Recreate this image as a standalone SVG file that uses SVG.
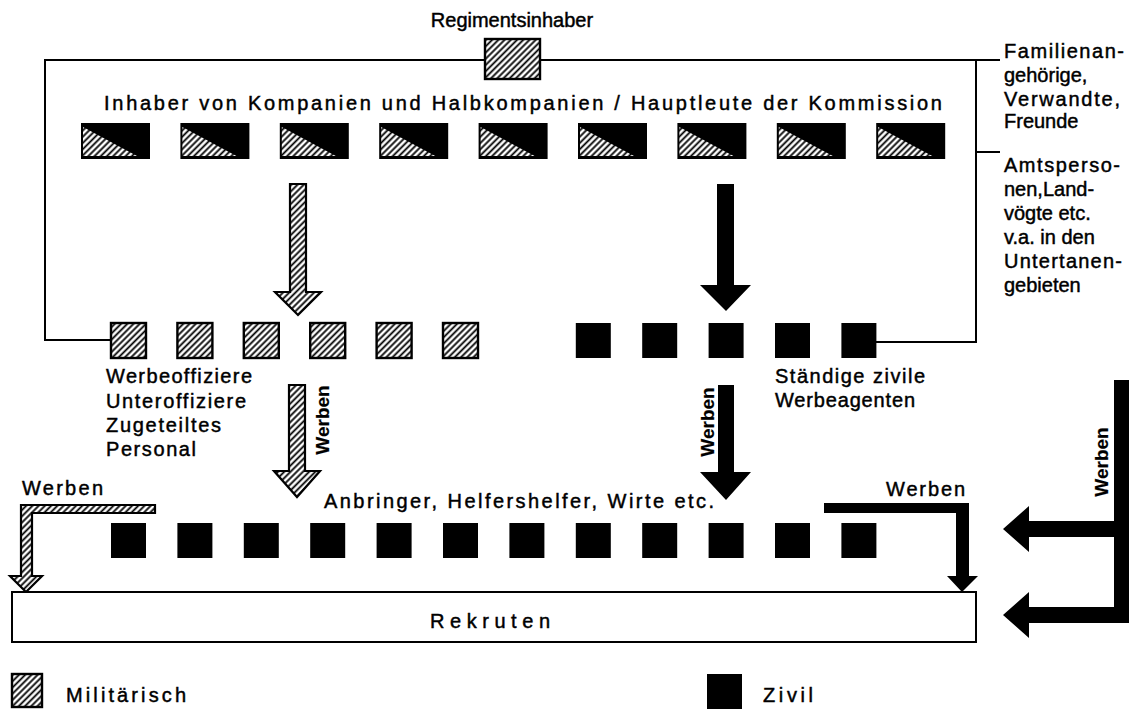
<svg xmlns="http://www.w3.org/2000/svg" width="1135" height="713" viewBox="0 0 1135 713">
<defs>
<pattern id="hatch" width="4.4" height="4.4" patternUnits="userSpaceOnUse" patternTransform="rotate(45)">
<rect width="4.4" height="4.4" fill="#fff"/>
<line x1="2.2" y1="0" x2="2.2" y2="4.4" stroke="#000" stroke-width="1.8"/>
</pattern>
<g id="topbox">
<rect x="0" y="0" width="69" height="36" fill="#000"/>
<polygon points="2,4 2,33 56,33" fill="url(#hatch)"/>
</g>
</defs>
<style>
text{font-family:"Liberation Sans",Arial,sans-serif;fill:#000;font-size:20px;stroke:#000;stroke-width:0.45}
.line{fill:none;stroke:#000;stroke-width:2}
.mil{fill:url(#hatch);stroke:#000;stroke-width:2.4}
.civ{fill:#000}
.harrow{fill:url(#hatch);stroke:#000;stroke-width:2.2}
.barrow{fill:#000}
.rot{font-size:19px;font-weight:bold;stroke-width:0.2}
</style>
<rect width="1135" height="713" fill="#fff"/>

<g id="connectors">
<polyline class="line" points="111,340 45,340 45,60 1000,60"/>
<polyline class="line" points="976,60 976,342 876,342"/>
<line class="line" x1="976" y1="152" x2="1000" y2="152"/>
<path class="harrow" d="M290,184 H306 V292 H321 L298,315 L275,292 H290 Z"/>
<path class="barrow" d="M717,184 H734 V285 H751 L726,311 L700,285 H717 Z"/>
<path class="harrow" d="M289,385 H305 V471 H320 L297,497 L274,471 H289 Z"/>
<path class="barrow" d="M718,385 H734 V472 H751 L726,500 L700,472 H718 Z"/>
<path class="harrow" d="M21,505 H155 V513 H32 V576 H42 L26,592 L10,576 H21 Z"/>
<path class="barrow" d="M824,503 H969 V576 H978 L962,592 L947,576 H956 V513 H824 Z"/>
<path class="barrow" d="M1114,380 H1129 V623 H1029 V638 L1003,615 L1029,592 V607 H1114 V537 H1029 V552 L1003,529 L1029,506 V521 H1114 Z"/>
</g>

<g id="regimentsinhaber">
<rect class="mil" x="485" y="39" width="55" height="40"/>
<text x="512" y="27" text-anchor="middle">Regimentsinhaber</text>
</g>

<g id="inhaber">
<text x="104" y="110" font-size="21" textLength="838" lengthAdjust="spacing">Inhaber von Kompanien und Halbkompanien / Hauptleute der Kommission</text>
<use href="#topbox" x="81" y="123"/>
<use href="#topbox" x="180.4" y="123"/>
<use href="#topbox" x="279.8" y="123"/>
<use href="#topbox" x="379.2" y="123"/>
<use href="#topbox" x="478.6" y="123"/>
<use href="#topbox" x="578" y="123"/>
<use href="#topbox" x="677.4" y="123"/>
<use href="#topbox" x="776.8" y="123"/>
<use href="#topbox" x="876.2" y="123"/>
</g>

<g id="familie">
<text x="1004" y="58" textLength="120" lengthAdjust="spacing">Familienan-</text>
<text x="1004" y="82">gehörige,</text>
<text x="1004" y="106" textLength="116" lengthAdjust="spacing">Verwandte,</text>
<text x="1004" y="128">Freunde</text>
</g>

<g id="amtspersonen">
<text x="1004" y="172" textLength="116" lengthAdjust="spacing">Amtsperso-</text>
<text x="1004" y="196">nen,Land-</text>
<text x="1004" y="220">vögte etc.</text>
<text x="1004" y="244">v.a. in den</text>
<text x="1004" y="268" textLength="118" lengthAdjust="spacing">Untertanen-</text>
<text x="1004" y="292">gebieten</text>
</g>

<g id="werbeoffiziere">
<rect class="mil" x="111" y="323" width="35" height="35"/>
<rect class="mil" x="177.4" y="323" width="35" height="35"/>
<rect class="mil" x="243.8" y="323" width="35" height="35"/>
<rect class="mil" x="310.2" y="323" width="35" height="35"/>
<rect class="mil" x="376.6" y="323" width="35" height="35"/>
<rect class="mil" x="443" y="323" width="35" height="35"/>
<text x="106" y="383" textLength="146" lengthAdjust="spacing">Werbeoffiziere</text>
<text x="106" y="408" textLength="140" lengthAdjust="spacing">Unteroffiziere</text>
<text x="106" y="432" textLength="115" lengthAdjust="spacing">Zugeteiltes</text>
<text x="106" y="456" textLength="90" lengthAdjust="spacing">Personal</text>
</g>

<g id="werbeagenten">
<rect class="civ" x="575.8" y="323" width="35" height="35"/>
<rect class="civ" x="642.2" y="323" width="35" height="35"/>
<rect class="civ" x="708.6" y="323" width="35" height="35"/>
<rect class="civ" x="775" y="323" width="35" height="35"/>
<rect class="civ" x="841.4" y="323" width="35" height="35"/>
<text x="775" y="383" textLength="150" lengthAdjust="spacing">Ständige zivile</text>
<text x="775" y="407" textLength="140" lengthAdjust="spacing">Werbeagenten</text>
</g>

<g id="werben-labels">
<text class="rot" transform="translate(329,420) rotate(-90)" text-anchor="middle">Werben</text>
<text class="rot" transform="translate(714,422) rotate(-90)" text-anchor="middle">Werben</text>
<text class="rot" transform="translate(1108,462) rotate(-90)" text-anchor="middle">Werben</text>
<text x="22" y="495" textLength="81" lengthAdjust="spacing">Werben</text>
<text x="886" y="496" textLength="79" lengthAdjust="spacing">Werben</text>
</g>

<g id="anbringer">
<text x="324" y="508" textLength="390" lengthAdjust="spacing">Anbringer, Helfershelfer, Wirte etc.</text>
<rect class="civ" x="111" y="523" width="35" height="35"/>
<rect class="civ" x="177.4" y="523" width="35" height="35"/>
<rect class="civ" x="243.8" y="523" width="35" height="35"/>
<rect class="civ" x="310.2" y="523" width="35" height="35"/>
<rect class="civ" x="376.6" y="523" width="35" height="35"/>
<rect class="civ" x="443" y="523" width="35" height="35"/>
<rect class="civ" x="509.4" y="523" width="35" height="35"/>
<rect class="civ" x="575.8" y="523" width="35" height="35"/>
<rect class="civ" x="642.2" y="523" width="35" height="35"/>
<rect class="civ" x="708.6" y="523" width="35" height="35"/>
<rect class="civ" x="775" y="523" width="35" height="35"/>
<rect class="civ" x="841.4" y="523" width="35" height="35"/>
</g>

<g id="rekruten">
<rect x="12" y="592" width="964" height="50" fill="#fff" stroke="#000" stroke-width="2"/>
<text x="430" y="628" font-size="22" textLength="120" lengthAdjust="spacing">Rekruten</text>
</g>

<g id="legend-militaerisch">
<rect class="mil" x="12" y="674" width="30" height="33"/>
<text x="66" y="702" textLength="120" lengthAdjust="spacing">Militärisch</text>
</g>

<g id="legend-zivil">
<rect class="civ" x="707" y="674" width="35" height="35"/>
<text x="763" y="702" textLength="50" lengthAdjust="spacing">Zivil</text>
</g>
</svg>
